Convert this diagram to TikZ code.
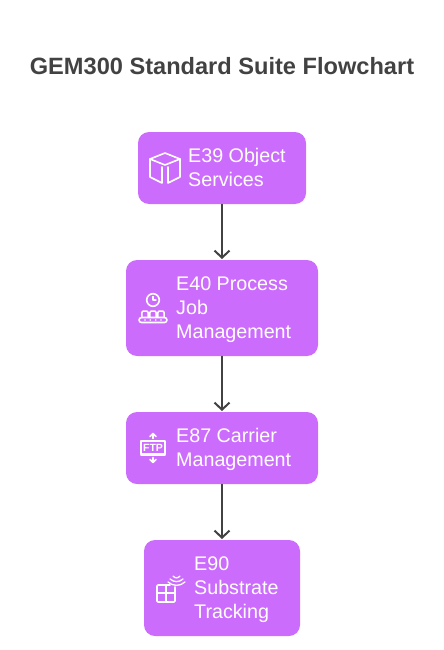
\documentclass[tikz,border=0pt]{standalone}
\usepackage{fontspec}
\setmainfont{Liberation Sans}
\usetikzlibrary{arrows.meta,positioning}
\definecolor{boxfill}{HTML}{CC6CFC}
\definecolor{inkgray}{HTML}{424242}
\begin{document}
\begin{tikzpicture}[
node distance=56pt,
box/.style={fill=boxfill,rounded corners=11pt,minimum height=#1,inner sep=0pt,outer sep=0pt},
boxtext/.style={text=white,align=left,inner sep=0pt,font=\fontsize{19.7}{24}\selectfont},
arrow/.style={-{Straight Barb[length=7pt,width=15pt]},line width=2pt,draw=inkgray,shorten >=1pt},
icon/.style={draw=white,line width=1.6pt,line join=round,line cap=round},
iconframe/.style={x=1pt,y=-1pt}]
\useasboundingbox (0,0) rectangle (444pt,-650pt);
\node[box=72pt,minimum width=168pt] (objsvc) at (222pt,-168pt) {};
\node[box=96pt,minimum width=192pt,below=of objsvc] (procjob) {};
\node[box=72pt,minimum width=192pt,below=of procjob] (carrier) {};
\node[box=96pt,minimum width=156pt,below=of carrier] (subst) {};
\node[text=inkgray,font=\bfseries\fontsize{23.6}{28}\selectfont] (title) at (222pt,-66pt) {GEM300 Standard Suite Flowchart};
\node[boxtext,anchor=west] (objsvctext) at ([xshift=50pt,yshift=-1.2pt]objsvc.west) {\strut E39 Object\\Services\strut};
\node[boxtext,anchor=west] (procjobtext) at ([xshift=50pt,yshift=-1.2pt]procjob.west) {\strut E40 Process\\Job\\Management\strut};
\node[boxtext,anchor=west] (carriertext) at ([xshift=50pt,yshift=-1.2pt]carrier.west) {\strut E87 Carrier\\Management\strut};
\node[boxtext,anchor=west] (substtext) at ([xshift=50pt,yshift=-1.2pt]subst.west) {\strut E90\\Substrate\\Tracking\strut};
\draw[arrow] (objsvc)--(procjob);\draw[arrow] (procjob)--(carrier);\draw[arrow] (carrier)--(subst);
% cube
\begin{scope}[shift={(objsvc.center)},iconframe,xshift=-57pt]
\draw[icon] (0,-15)--(15,-9)--(0,-3)--(-15,-9)--cycle;
\draw[icon] (-15,-9)--(-15,9)--(-3,15)--(-3,-1);
\draw[icon] (15,-9)--(15,9)--(3,15)--(3,-1);
\end{scope}
% clock over conveyor
\begin{scope}[shift={(procjob.center)},iconframe,xshift=-69pt]
\draw[icon] (0,-8) circle (6.3pt);
\draw[icon,line width=1.3pt] (0,-11.5)--(0,-8)--(3,-8);
\foreach \xoff in {-8,0,8} \draw[icon,line width=1.5pt,rounded corners=1.5pt] (\xoff-3.2,9.5)--(\xoff-3.2,3)--(\xoff+3.2,3)--(\xoff+3.2,9.5);
\draw[icon,rounded corners=2.5pt] (-14,9.5) rectangle (14,14.5);
\foreach \xoff in {-8,-2.7,2.7,8} \fill[white] (\xoff,12) circle (0.9pt);
\end{scope}
% ftp sign with two arrows
\begin{scope}[shift={(carrier.center)},iconframe,xshift=-69pt]
\draw[icon,line width=1.3pt] (-12,-7) rectangle (12,6);
\draw[icon,line width=2pt] (-12,7)--(12,7);
\node[text=white,inner sep=0pt,font=\bfseries\fontsize{10.5}{10.5}\selectfont] (ftplabel) at (0,-0.5) {FTP};
\draw[icon] (0,-9.5)--(0,-14); \draw[icon] (-3,-11.5)--(0,-14.5)--(3,-11.5);
\draw[icon] (0,9.5)--(0,14); \draw[icon] (-3,11.5)--(0,14.5)--(3,11.5);
\end{scope}
% grid with signal
\begin{scope}[shift={(subst.center)},iconframe,xshift=-56pt]
\draw[icon,rounded corners=1pt] (4,-3)--(-9,-3)--(-9,14)--(9,14)--(9,-1);
\draw[icon] (0,-3)--(0,14); \draw[icon] (-9,5)--(9,5);
\draw[icon,line width=1.3pt] (7,-12) .. controls (9,-9.5) and (12,-9.5) .. (14,-12);
\draw[icon,line width=1.3pt] (4,-9) .. controls (8,-5.5) and (13,-5.5) .. (17,-9);
\draw[icon,line width=1.3pt] (2,-6) .. controls (7,-1.5) and (14,-1.5) .. (19,-6);
\end{scope}
\end{tikzpicture}
\end{document}
